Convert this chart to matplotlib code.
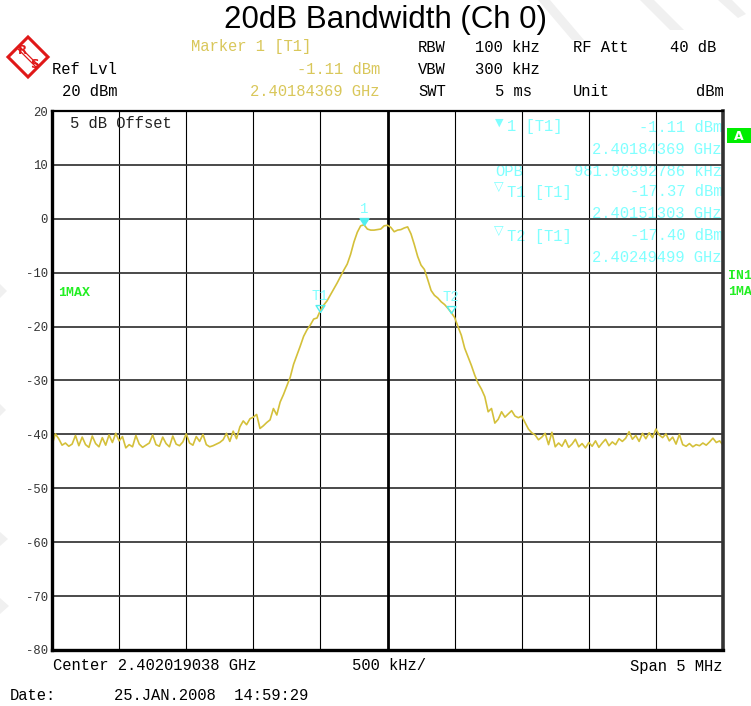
import numpy as np
import matplotlib
matplotlib.use("Agg")
import matplotlib.pyplot as plt
from matplotlib.patches import Polygon, Rectangle
from matplotlib.path import Path

# sweep setup
CENTER_GHZ = 2.402019038
SPAN_MHZ = 5.0

# trace 1 (max hold) in dBm, one reading every 25 kHz over the span
trace_dbm = [
    -42.0, -39.9, -40.8, -42.0, -41.6, -42.2, -41.8, -40.2, -42.1, -40.5,
    -41.9, -42.4, -40.3, -41.7, -42.3, -40.6, -42.0, -40.1, -41.5, -39.8,
    -41.2, -40.4, -42.5, -41.9, -42.3, -40.2, -41.8, -42.4, -42.0, -41.6,
    -40.1, -41.9, -42.2, -40.5, -41.7, -42.3, -40.3, -41.8, -42.1, -41.4,
    -39.9, -41.6, -42.0, -40.4, -41.3, -40.0, -41.9, -42.3, -42.1, -41.8,
    -41.5, -41.0, -39.8,
    -41.3, -39.4, -40.8, -38.6, -37.5, -38.2, -37.1, -36.8, -36.3, -38.9,
    -38.4, -37.8, -37.3, -35.2, -36.4, -34.0, -32.6, -31.0, -29.4,
    -27.0, -25.3, -23.6, -21.8, -20.6, -19.7, -18.6, -18.4, -17.0, -16.0,
    -15.2, -14.1, -13.0, -11.9, -10.7, -9.5, -8.4, -6.6, -4.3, -2.5, -1.3,
    -1.11, -1.9, -2.1, -2.1, -2.0, -1.9, -1.3, -1.2, -1.6, -2.4,
    -2.1, -2.0, -1.7, -1.5, -2.8, -4.8, -7.0, -8.6, -9.4, -11.3,
    -13.3, -14.2, -14.7, -15.4, -15.9, -16.6, -17.4,
    -18.3, -20.0, -21.6, -24.0, -25.6, -27.2, -29.0, -30.5, -31.6, -33.0,
    -35.8, -35.2, -37.9, -37.2, -35.8, -36.8, -36.2, -35.6, -36.6, -36.9,
    -36.6, -37.8, -39.0, -39.7, -40.1, -41.0, -40.5, -39.8, -41.9, -39.6,
    -42.3, -41.6,
    -42.2, -41.0, -42.4, -41.8, -40.9, -42.3, -41.7, -42.5, -41.5, -42.2,
    -41.2, -42.4, -41.6, -40.9, -42.1, -41.4, -41.9, -40.8, -41.3, -40.7,
    -39.5, -40.9, -40.2, -41.3, -39.8, -40.8, -39.7, -40.6, -39.0, -40.1,
    -40.6, -39.9, -41.2, -40.5, -41.8, -40.0, -41.9, -42.2, -41.7, -42.3,
    -41.9, -42.1, -41.6, -42.0, -41.4, -40.7, -41.5, -41.2, -42.0,
]

# marker readout
marker_names = ["1", "T1", "T2"]
marker_freq_ghz = [2.40184369, 2.40151303, 2.40249499]
marker_level_dbm = [-1.11, -17.37, -17.40]
opb_khz = "981.96392786"

y_ticks = list(range(20, -90, -10))

W, H = 751, 706
MONO = "Liberation Mono"
YELLOW = "#d9c75a"
TRACE = "#d4c03a"
CYAN = "#80ffff"
MARK = "#50eeee"
GREEN = "#22ee22"
RED = "#e01818"

fig = plt.figure(figsize=(W / 100, H / 100), dpi=100)


def fxy(x, y):
    return x / W, 1 - y / H


def put(x, y, s, color="black", ha="left", size=11.2, **kw):
    fig.text(*fxy(x, y), s, ha=ha, va="center", family=MONO,
             fontsize=size, color=color, **kw)


# faint watermark stripes
for pts in [
    [(538, 0), (550, 0), (584, 40), (572, 40)],
    [(640, 0), (654, 0), (684, 30), (670, 30)],
    [(718, 0), (732, 0), (746, 14), (738, 18)],
    [(0, 284), (7, 291), (0, 298)],
    [(0, 404), (6, 410), (0, 416)],
    [(0, 532), (8, 539), (0, 546)],
    [(0, 598), (9, 606), (0, 614)],
]:
    fig.patches.append(Polygon([fxy(*p) for p in pts], closed=True,
                               transform=fig.transFigure, fc="#f0f0f0",
                               ec="none", zorder=0))

# R&S logo
logo = [(28, 37), (48, 57), (28, 77), (8, 57)]
fig.patches.append(Polygon([fxy(*p) for p in logo], closed=True,
                           transform=fig.transFigure, fc="white",
                           ec=RED, lw=2.2, zorder=1))
for a, b in [((19, 46), (39, 66)), ((17, 48), (37, 68))]:
    fig.lines.append(plt.Line2D(*zip(fxy(*a), fxy(*b)), transform=fig.transFigure,
                                color=RED, lw=0.9))
fig.text(*fxy(22, 50), "R", color=RED, fontsize=8.5, ha="center",
         va="center", family="DejaVu Sans", weight="bold")
fig.text(*fxy(34, 64), "S", color=RED, fontsize=8.5, ha="center",
         va="center", family="DejaVu Sans", weight="bold")

fig.text(*fxy(385, 20), "20dB Bandwidth (Ch 0)", ha="center", va="center",
         family="Liberation Sans", fontsize=22.5)

# header block
put(191, 47, "Marker 1 [T1]", YELLOW)
put(380, 69, "-1.11 dBm", YELLOW, ha="right")
put(380, 91, "2.40184369 GHz", YELLOW, ha="right")
put(52, 69, "Ref Lvl")
put(62, 91, "20 dBm")
put(418, 47, "RBW")
put(418, 69, "VBW")
put(418, 91, "SWT")
put(475, 47, "100 kHz")
put(475, 69, "300 kHz")
put(532, 91, "5 ms", ha="right")
put(573, 47, "RF Att")
put(573, 91, "Unit")
put(716, 47, "40 dB", ha="right")
put(724, 91, "dBm", ha="right")

put(53, 666, "Center 2.402019038 GHz")
put(352, 666, "500 kHz/")
put(722, 666, "Span 5 MHz", ha="right")
put(10, 696, "Date:")
put(114, 696, "25.JAN.2008  14:59:29")

ax = fig.add_axes([52 / W, 1 - 650 / H, (723 - 52) / W, (650 - 111) / H])
freq = np.linspace(-SPAN_MHZ / 2, SPAN_MHZ / 2, len(trace_dbm))
ax.plot(freq, trace_dbm, color=TRACE, lw=1.2, zorder=2)

ax.set_xlim(-SPAN_MHZ / 2, SPAN_MHZ / 2)
ax.set_ylim(-80, 20)
ax.set_xticks(np.arange(-2.5, 2.51, 0.5))
ax.set_yticks(y_ticks)
ax.set_yticklabels([str(t) for t in y_ticks], family=MONO, fontsize=8.8,
                   color="#333333")
ax.tick_params(length=0, labelbottom=False, pad=3)
ax.grid(axis="x", color="black", lw=0.8, zorder=1.5)
ax.grid(axis="y", color="#3a3a3a", lw=1.3, zorder=1.5)
ax.axvline(0, color="black", lw=2.0, zorder=1.6)
for side, lw, col in [("left", 2.4, "black"), ("bottom", 2.4, "black"),
                      ("right", 2.6, "#333333"), ("top", 1.6, "black")]:
    ax.spines[side].set_linewidth(lw)
    ax.spines[side].set_color(col)

# markers: tip of the triangle sits on the trace
tri = Path([(-0.64, 1.0), (0.64, 1.0), (0.0, 0.0), (-0.64, 1.0)],
           [Path.MOVETO, Path.LINETO, Path.LINETO, Path.CLOSEPOLY])
marker_off = [(f - CENTER_GHZ) * 1000 for f in marker_freq_ghz]
for i, (name, fo, lvl) in enumerate(zip(marker_names, marker_off, marker_level_dbm)):
    ax.plot([fo], [lvl], marker=tri, ms=10, mew=1.0, mec=MARK,
            mfc=MARK if i == 0 else "none", zorder=4)
    ax.annotate(name, (fo, lvl), xytext=(0, 11.5), textcoords="offset points",
                ha="center", va="center", family=MONO, fontsize=10,
                color=CYAN, zorder=4)

# marker table, drawn under the grid lines
def tab(x, y, s, ha="left", size=11.2, family=MONO):
    ax.text(*fxy(x, y), s, transform=fig.transFigure, ha=ha, va="center",
            family=family, fontsize=size, color=CYAN, zorder=1)


tab(495, 123, "\u25bc", size=8, family="DejaVu Sans")
tab(507, 127, "1 [T1]")
tab(722, 127, "%.2f dBm" % marker_level_dbm[0], ha="right")
tab(722, 149, "%.8f GHz" % marker_freq_ghz[0], ha="right")
tab(495, 171, "OPB")
tab(722, 171, opb_khz + " kHz", ha="right")
for row, k in [(192, 1), (236, 2)]:
    tab(494, row - 5, "\u25bd", size=9, family="DejaVu Sans")
    tab(507, row, marker_names[k] + " [T1]")
    tab(722, row, "%.2f dBm" % marker_level_dbm[k], ha="right")
    tab(722, row + 22, "%.8f GHz" % marker_freq_ghz[k], ha="right")

put(70, 124, "5 dB Offset", "#222222")
put(58, 293, "1MAX", GREEN, size=9.5, weight="bold")
put(728, 276, "IN1", GREEN, size=9.5, weight="bold")
put(728, 292, "1MA", GREEN, size=9.5, weight="bold")
fig.patches.append(Rectangle(fxy(727, 143), 24 / W, 15 / H,
                             transform=fig.transFigure, fc="#00ee00", ec="none"))
fig.text(*fxy(739, 136), "A", ha="center", va="center", family="DejaVu Sans",
         fontsize=9, weight="bold", color="white")

fig.savefig("out.png", dpi=100)
